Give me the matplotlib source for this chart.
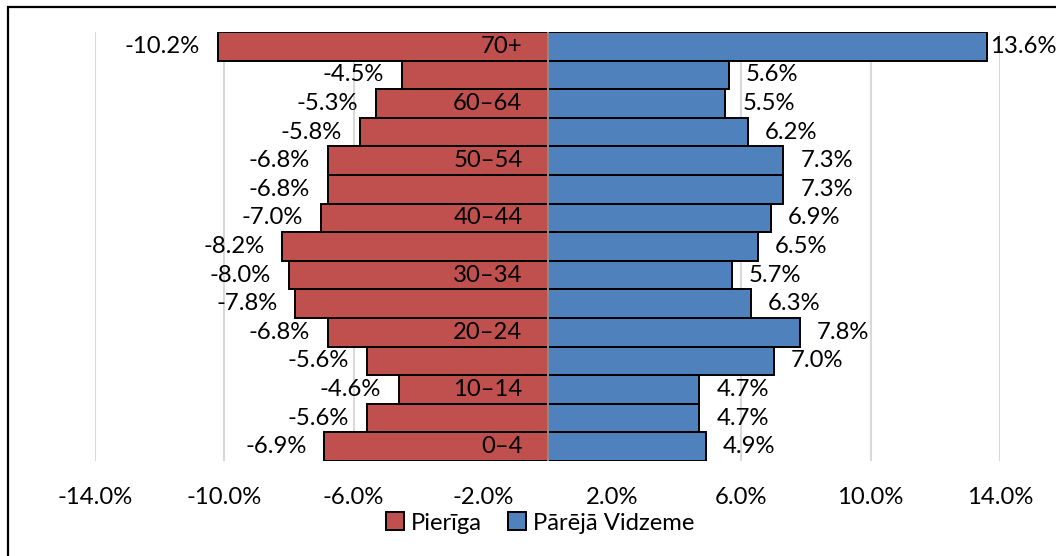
import matplotlib
matplotlib.use("Agg")
import matplotlib.pyplot as plt
from matplotlib.patches import Rectangle, Patch

plt.rcParams['font.family'] = ['Lato', 'DejaVu Sans']

age_groups = ["0–4", "5–9", "10–14", "15–19", "20–24", "25–29", "30–34", "35–39",
              "40–44", "45–49", "50–54", "55–59", "60–64", "65–69", "70+"]
pieriga = [-6.9, -5.6, -4.6, -5.6, -6.8, -7.8, -8.0, -8.2, -7.0, -6.8, -6.8, -5.8, -5.3, -4.5, -10.2]
vidzeme = [4.9, 4.7, 4.7, 7.0, 7.8, 6.3, 5.7, 6.5, 6.9, 7.3, 7.3, 6.2, 5.5, 5.6, 13.6]
x_ticks = [-14, -10, -6, -2, 2, 6, 10, 14]
x_tick_labels = ["-14.0%", "-10.0%", "-6.0%", "-2.0%", "2.0%", "6.0%", "10.0%", "14.0%"]
series_names = ["Pierīga", "Pārējā Vidzeme"]

RED = "#C0504D"
BLUE = "#4F81BD"
FS = 17.2
PX = 0.72  # points per pixel at dpi 100

W, H = 1056, 556
fig = plt.figure(figsize=(W / 100, H / 100), dpi=100)
ax = fig.add_axes([95 / W, 1 - 461 / H, (1000 - 95) / W, (461 - 32) / H])

y = list(range(len(age_groups)))
ax.barh(y, pieriga, height=1.0, color=RED, edgecolor="black", linewidth=1.4, zorder=2)
ax.barh(y, vidzeme, height=1.0, color=BLUE, edgecolor="black", linewidth=1.4, zorder=2)

ax.set_xlim(-14, 14)
ax.set_ylim(-0.5, len(age_groups) - 0.5)
ax.set_xticks(x_ticks)
ax.set_xticklabels(x_tick_labels, fontsize=FS)
ax.tick_params(axis='x', length=0, pad=19)
ax.set_yticks([])
for s in ax.spines.values():
    s.set_visible(False)
ax.grid(axis='x', color="#D9D9D9", linewidth=1.5, zorder=0)
ax.set_axisbelow(True)
ax.axvline(0, color="#A6A6A6", linewidth=1.2, zorder=3)

# category labels (every other one), right-aligned left of the zero axis
for i, lab in enumerate(age_groups):
    if i % 2 == 0:
        ax.annotate(lab, xy=(0, i), xytext=(-25 * PX, 0), textcoords="offset points",
                    ha="right", va="center", fontsize=FS, zorder=4)

# data labels
for i, v in enumerate(pieriga):
    ax.annotate(f"{v:.1f}%", xy=(v, i), xytext=(-18 * PX, 0), textcoords="offset points",
                ha="right", va="center", fontsize=FS, zorder=4)
vmax = max(vidzeme)
for i, v in enumerate(vidzeme):
    off = 3 if v == vmax else 17
    ax.annotate(f"{v:.1f}%", xy=(v, i), xytext=(off * PX, 0), textcoords="offset points",
                ha="left", va="center", fontsize=FS, zorder=4, annotation_clip=False)

handles = [Patch(facecolor=RED, edgecolor="black", linewidth=1.4),
           Patch(facecolor=BLUE, edgecolor="black", linewidth=1.4)]
fig.legend(handles, series_names, loc="center", bbox_to_anchor=(540 / W, 1 - 523 / H),
           ncol=2, frameon=False, fontsize=FS, handlelength=0.75, handleheight=0.75,
           handletextpad=0.3, columnspacing=1.1, borderaxespad=0, borderpad=0)

# outer chart border
fig.patches.append(Rectangle((8 / W, -0.1), 1.2, 1 - 7 / H + 0.1, transform=fig.transFigure,
                             fill=False, edgecolor="black", linewidth=1.6, zorder=10))

fig.savefig("out.png", dpi=100)
